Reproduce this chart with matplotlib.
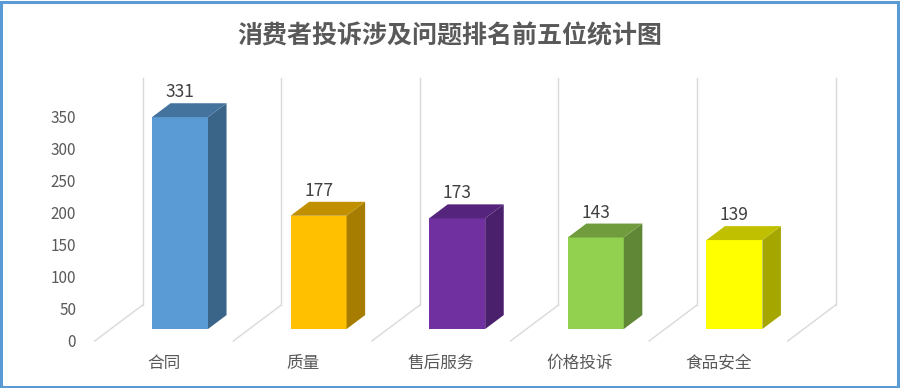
import matplotlib
matplotlib.use("Agg")
import matplotlib.pyplot as plt
from matplotlib.patches import Polygon, Rectangle

plt.rcParams['font.family'] = ['Noto Sans CJK SC', 'DejaVu Sans']

# ---- data ----
categories = ['合同', '质量', '售后服务', '价格投诉', '食品安全']
values = [331, 177, 173, 143, 139]
front_colors = ['#5B9BD5', '#FFC000', '#7030A0', '#92D050', '#FFFF00']
side_colors = ['#3B6489', '#A67D00', '#4A1F6B', '#5F8735', '#A6A600']
top_colors = ['#44739E', '#C09000', '#55247C', '#709C3E', '#C0C000']
yticks = [0, 50, 100, 150, 200, 250, 300, 350]
title = '消费者投诉涉及问题排名前五位统计图'

# ---- pseudo-3D geometry (in data units) ----
DX = 0.346      # x shift for full depth
DY = 56.25      # value shift for full depth
d0, d1 = 0.333, 0.72
bar_w = 0.404
wall_top = 411

W, H = 900, 388
fig = plt.figure(figsize=(W / 100, H / 100), dpi=100)
ax = fig.add_axes([90 / W, (H - 352) / H, 800 / W, (352 - 60) / H])
ax.set_xlim(-0.534, 5.238)
ax.set_ylim(-17.19, 439.06)
for s in ax.spines.values():
    s.set_visible(False)

grid_c = '#D9D9D9'
for k in range(len(categories) + 1):
    xd = k - 0.5
    ax.plot([xd, xd + DX], [0, DY], color=grid_c, lw=1.0, clip_on=False, zorder=1)
    ax.plot([xd + DX, xd + DX], [DY, wall_top], color=grid_c, lw=1.0, clip_on=False, zorder=1)

for i, (v, fc, sc, tc) in enumerate(zip(values, front_colors, side_colors, top_colors)):
    xl = i - bar_w / 2 + d0 * DX
    xr = xl + bar_w
    yb = d0 * DY
    yt = yb + v
    ddx = (d1 - d0) * DX
    ddy = (d1 - d0) * DY
    ax.add_patch(Rectangle((xl, yb), bar_w, v, facecolor=fc, edgecolor='none', zorder=3))
    ax.add_patch(Polygon([(xr, yb), (xr + ddx, yb + ddy), (xr + ddx, yt + ddy), (xr, yt)],
                         closed=True, facecolor=sc, edgecolor='none', zorder=3))
    ax.add_patch(Polygon([(xl, yt), (xr, yt), (xr + ddx, yt + ddy), (xl + ddx, yt + ddy)],
                         closed=True, facecolor=tc, edgecolor='none', zorder=3))
    ax.text(xl + bar_w / 2, yt + ddy + 17, str(v), ha='center', va='center',
            fontsize=12.5, color='#404040', zorder=4)

ax.set_yticks(yticks)
ax.set_yticklabels([str(t) for t in yticks], fontsize=11, color='#595959')
ax.tick_params(axis='y', length=0, pad=10)
ax.set_xticks(range(len(categories)))
ax.set_xticklabels(categories, fontsize=12, color='#595959')
ax.tick_params(axis='x', length=0, pad=2)

fig.text(0.5, 1 - 36 / H, title, ha='center', va='center', fontsize=18,
         fontweight='bold', color='#595959')

fig.patches.append(Rectangle((0.5 / W, 1.5 / H), (W - 2.5) / W, (H - 3) / H,
                             transform=fig.transFigure, fill=False,
                             edgecolor='#5B9BD5', lw=2.2))

fig.savefig('out.png', dpi=100)
